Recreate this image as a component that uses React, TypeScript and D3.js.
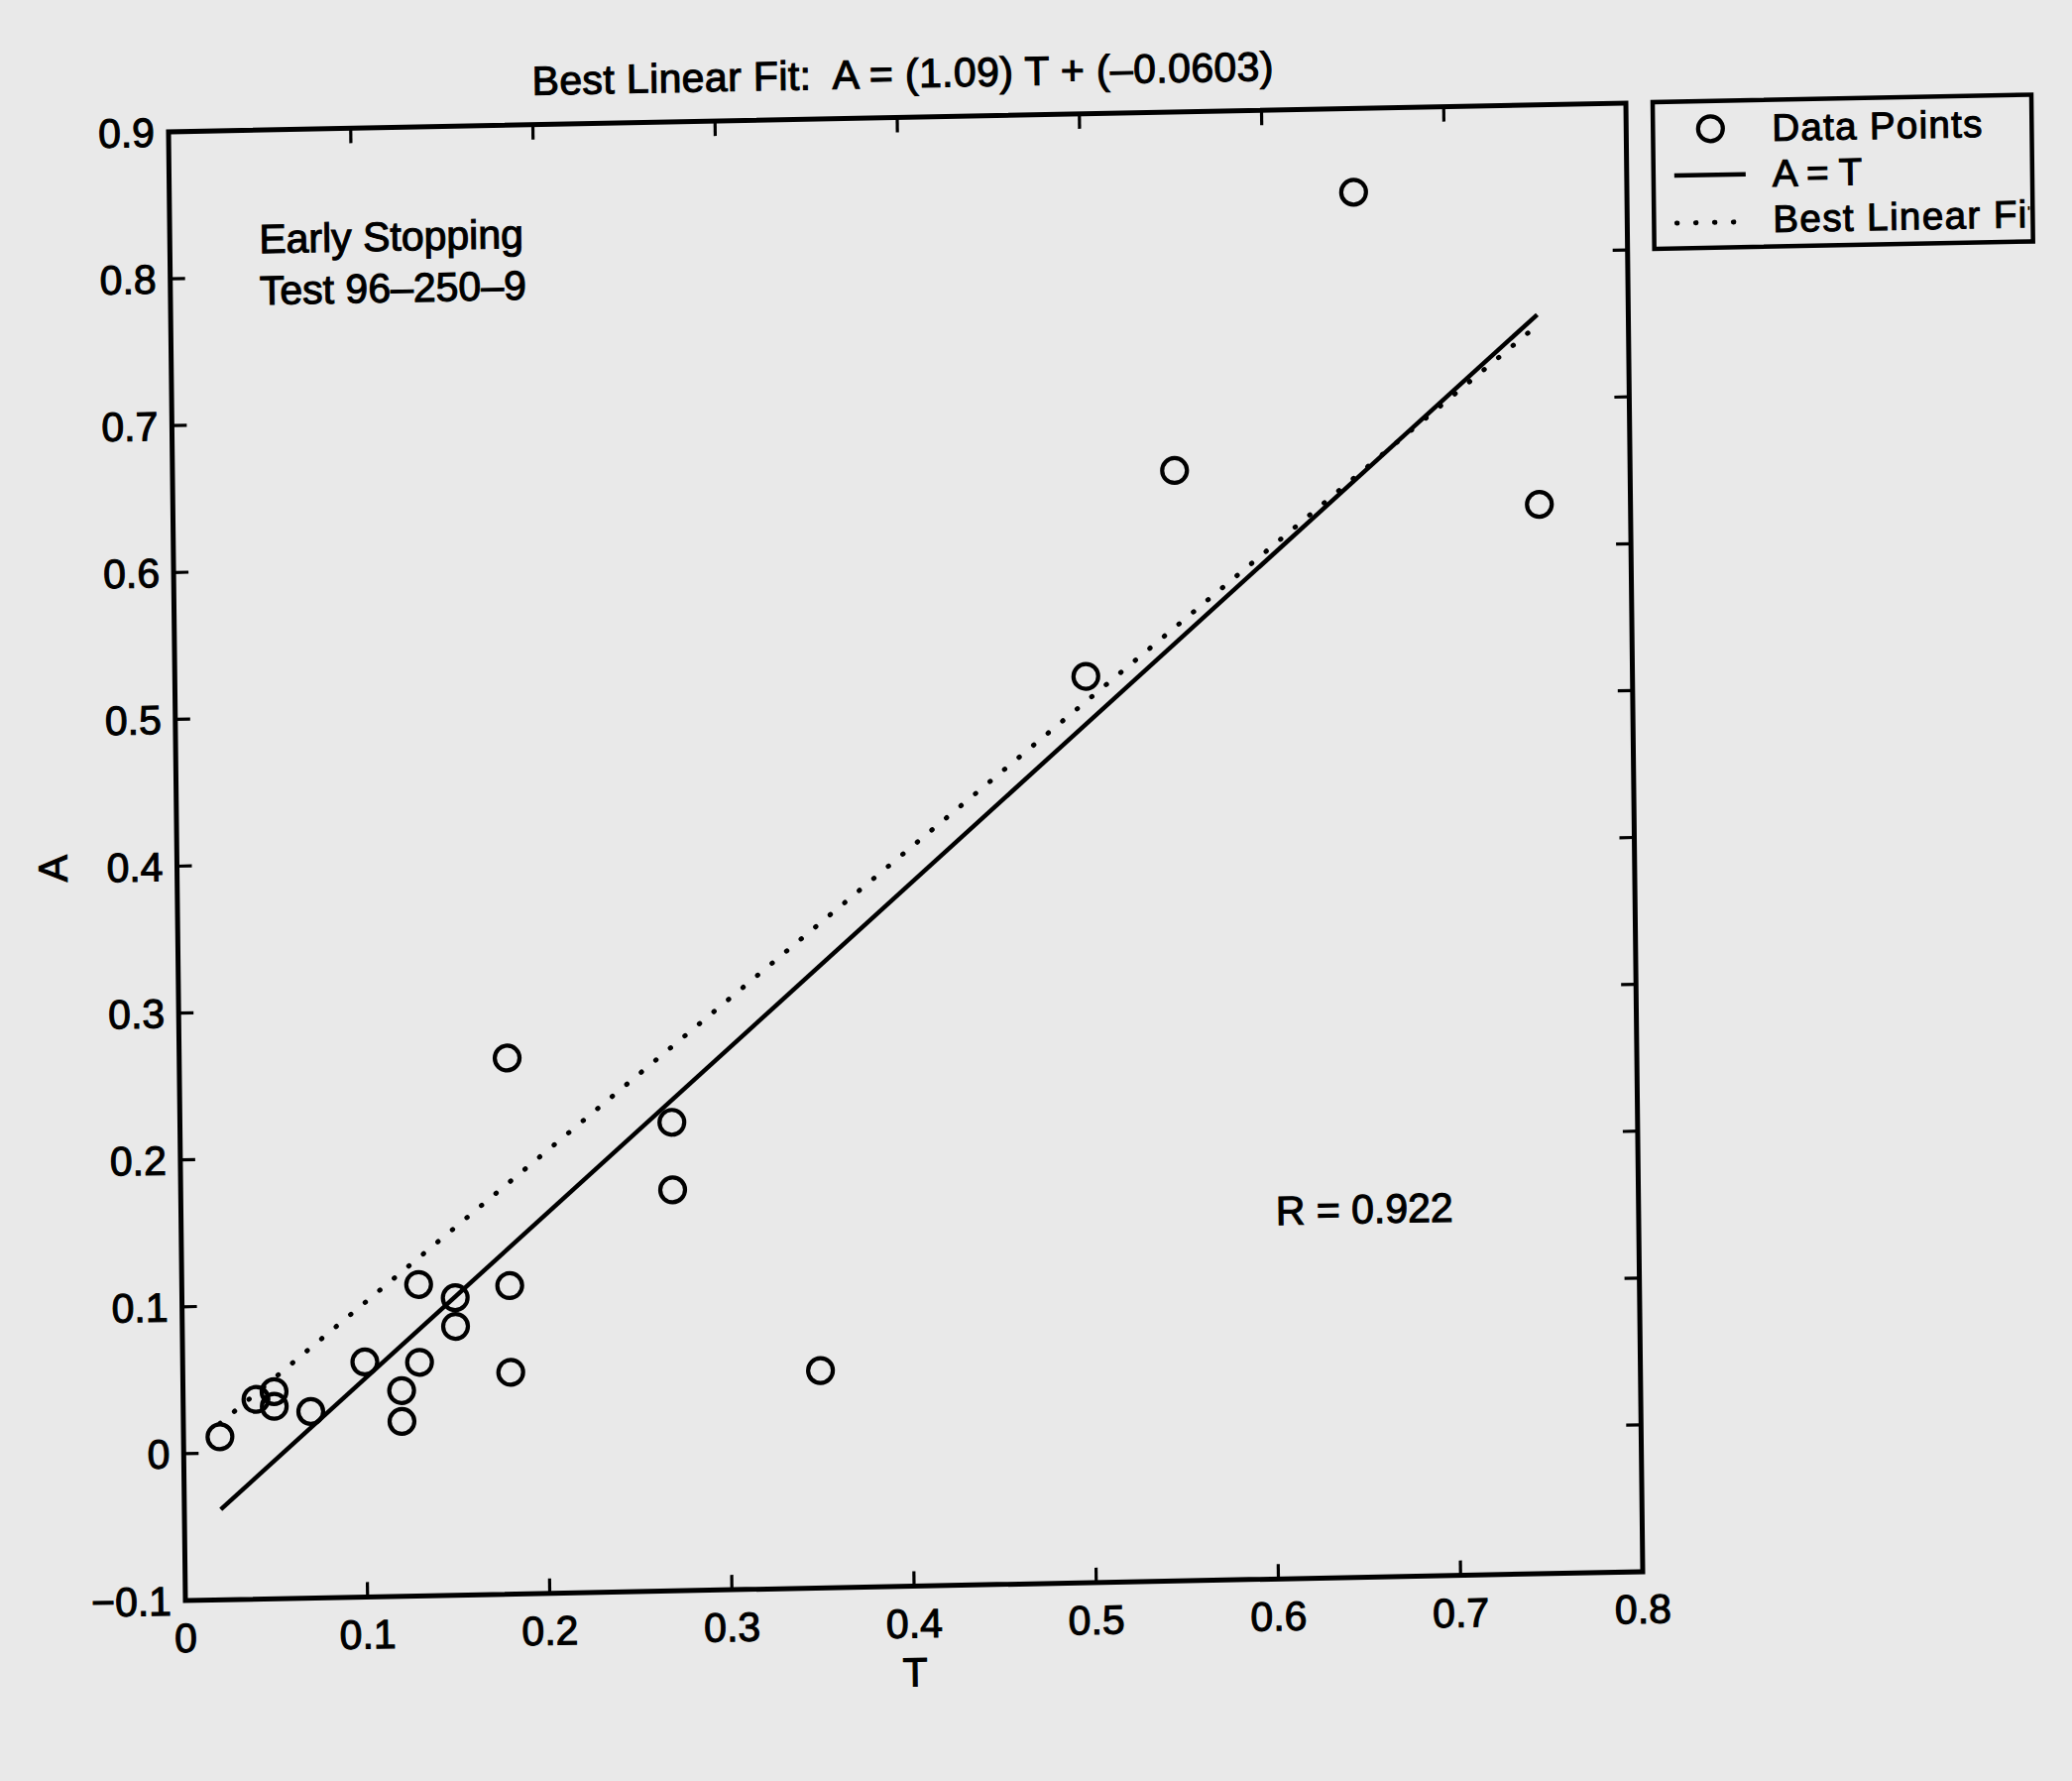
import React from 'react';
import * as d3 from 'd3';

// ---- data ----
const T_VALUES = [0.02, 0.04, 0.05, 0.05, 0.07, 0.10, 0.12, 0.12, 0.13, 0.13, 0.15, 0.15, 0.18, 0.18, 0.18, 0.27, 0.27, 0.35, 0.50, 0.55, 0.65, 0.75];
const A_VALUES = [0.011, 0.036, 0.041, 0.031, 0.027, 0.060, 0.040, 0.019, 0.059, 0.112, 0.1025, 0.083, 0.110, 0.051, 0.265, 0.219, 0.173, 0.048, 0.517, 0.656, 0.843, 0.628];
const X_TICKS = [0, 0.1, 0.2, 0.3, 0.4, 0.5, 0.6, 0.7, 0.8];
const X_TICK_LABELS = ['0', '0.1', '0.2', '0.3', '0.4', '0.5', '0.6', '0.7', '0.8'];
const Y_TICKS = [-0.1, 0, 0.1, 0.2, 0.3, 0.4, 0.5, 0.6, 0.7, 0.8, 0.9];
const Y_TICK_LABELS = ['\u22120.1', '0', '0.1', '0.2', '0.3', '0.4', '0.5', '0.6', '0.7', '0.8', '0.9'];
const FIT_SLOPE = 1.09;
const FIT_INTERCEPT = -0.0603;
const TITLE = 'Best Linear Fit:  A = (1.09) T + (\u20130.0603)';
const X_LABEL = 'T';
const Y_LABEL = 'A';
const NOTE_LINES = ['Early Stopping', 'Test 96\u2013250\u20139'];
const R_LABEL = 'R = 0.922';
const LEGEND_LABELS = ['Data Points', 'A = T', 'Best Linear Fit'];

// ---- layout ----
const W = 2090;
const H = 1796;
const PL = 170, PR = 1640, PT = 133, PB = 1614;
const FONT = "'Liberation Sans', Arial, Helvetica, sans-serif";
const FS = 41;
const TICK = 15;
// scan distortion (slight rotation / shear of the page)
const SKEW = 'matrix(1,-0.01973,0.01148,1,-1.527,3.354)';

const textStyle = {
  fontFamily: FONT,
  fontSize: FS,
  fill: '#000',
  stroke: '#000',
  strokeWidth: 1.1,
  whiteSpace: 'pre' as const,
};
const legendText = { ...textStyle, fontSize: 38.5 };

export default function App() {
  const x = d3.scaleLinear().domain([0, 0.8]).range([PL, PR]);
  const y = d3.scaleLinear().domain([-0.1, 0.9]).range([PB, PT]);
  const tMin = d3.min(T_VALUES) as number;
  const tMax = d3.max(T_VALUES) as number;
  const line = d3.line<[number, number]>().x(d => x(d[0])).y(d => y(d[1]));
  const fitPath = line([
    [tMin, FIT_SLOPE * tMin + FIT_INTERCEPT],
    [tMax, FIT_SLOPE * tMax + FIT_INTERCEPT],
  ]) as string;
  const idPath = line([
    [tMin, tMin],
    [tMax, tMax],
  ]) as string;

  const LX = 1667, LY = 132.5, LW = 382, LH = 148;

  return (
    <svg
      width={W}
      height={H}
      viewBox={`0 0 ${W} ${H}`}
      style={{ position: 'absolute', left: 0, top: 0, display: 'block' }}
    >
      <defs>
        <clipPath id="legclip">
          <rect x={LX} y={LY} width={LW - 3} height={LH} />
        </clipPath>
      </defs>
      <rect x={0} y={0} width={W} height={H} fill="#e9e9e9" />
      <g transform={SKEW}>
        {/* title */}
        <text x={537} y={103} textLength={748} lengthAdjust="spacing" style={textStyle}>
          {TITLE}
        </text>

        {/* ticks */}
        {X_TICKS.map((t, i) => (
          <g key={'xt' + i}>
            <line x1={x(t)} x2={x(t)} y1={PB} y2={PB - TICK} stroke="#000" strokeWidth={3.2} />
            <line x1={x(t)} x2={x(t)} y1={PT} y2={PT + TICK} stroke="#000" strokeWidth={3.2} />
            <text x={x(t)} y={PB + 52} textAnchor="middle" style={textStyle}>
              {X_TICK_LABELS[i]}
            </text>
          </g>
        ))}
        {Y_TICKS.map((t, i) => (
          <g key={'yt' + i}>
            <line x1={PL} x2={PL + TICK} y1={y(t)} y2={y(t)} stroke="#000" strokeWidth={3.2} />
            <line x1={PR} x2={PR - TICK} y1={y(t)} y2={y(t)} stroke="#000" strokeWidth={3.2} />
            <text x={PL - 14} y={y(t) + 14.5} textAnchor="end" style={textStyle}>
              {Y_TICK_LABELS[i]}
            </text>
          </g>
        ))}

        {/* axis frame */}
        <rect x={PL} y={PT} width={PR - PL} height={PB - PT} fill="none" stroke="#000" strokeWidth={5} />

        {/* axis labels */}
        <text x={(PL + PR) / 2} y={1715} textAnchor="middle" style={textStyle}>
          {X_LABEL}
        </text>
        <text
          transform={`translate(59,${(PT + PB) / 2}) rotate(-90)`}
          textAnchor="middle"
          style={textStyle}
        >
          {Y_LABEL}
        </text>

        {/* lines */}
        <path
          d={idPath}
          fill="none"
          stroke="#000"
          strokeWidth={5}
          strokeDasharray="0.5 18.5"
          strokeLinecap="round"
        />
        <path d={fitPath} fill="none" stroke="#000" strokeWidth={4.5} />

        {/* data points */}
        {T_VALUES.map((t, i) => (
          <circle key={'p' + i} cx={x(t)} cy={y(A_VALUES[i])} r={12.5} fill="none" stroke="#000" strokeWidth={4.2} />
        ))}

        {/* annotations */}
        <text x={260} y={257} style={textStyle}>{NOTE_LINES[0]}</text>
        <text x={260} y={309} style={textStyle}>{NOTE_LINES[1]}</text>
        <text x={1274} y={1257} style={textStyle}>{R_LABEL}</text>

        {/* legend */}
        <rect x={LX} y={LY} width={LW} height={LH} fill="none" stroke="#000" strokeWidth={4.5} />
        <circle cx={1725} cy={160.5} r={12.5} fill="none" stroke="#000" strokeWidth={4.2} />
        <line x1={1688} x2={1760} y1={207} y2={207} stroke="#000" strokeWidth={4.5} />
        <line
          x1={1690}
          x2={1752}
          y1={255}
          y2={255}
          stroke="#000"
          strokeWidth={5}
          strokeDasharray="0.5 18.5"
          strokeLinecap="round"
        />
        <g clipPath="url(#legclip)">
          <text x={1787} y={174} textLength={212} lengthAdjust="spacing" style={legendText}>{LEGEND_LABELS[0]}</text>
          <text x={1787} y={220} style={legendText}>{LEGEND_LABELS[1]}</text>
          <text x={1787} y={266} textLength={268} lengthAdjust="spacing" style={legendText}>{LEGEND_LABELS[2]}</text>
        </g>
      </g>
    </svg>
  );
}
